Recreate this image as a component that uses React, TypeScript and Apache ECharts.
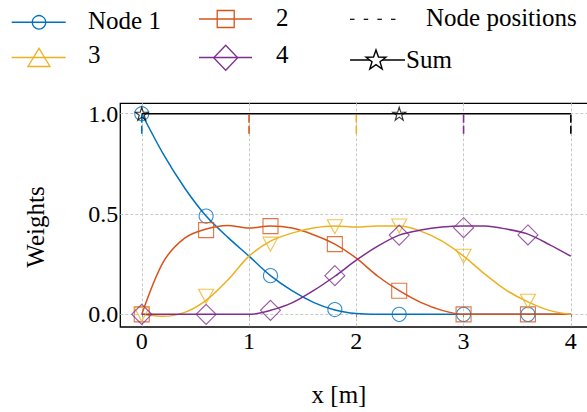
import React, { useEffect, useRef } from "react";
import * as echarts from "echarts";

// ---- data ----
const xs = [0, 0.2, 0.4, 0.6, 0.8, 1.0, 1.2, 1.4, 1.6, 1.8, 2.0, 2.2, 2.4, 2.6, 2.8, 3.0, 3.2, 3.4, 3.6, 3.8, 4.0];
const node1 = [1.0, 0.8, 0.63, 0.49, 0.385, 0.29, 0.193, 0.118, 0.06, 0.022, 0.004, 0, 0, 0, 0, 0, 0, 0, 0, 0, 0];
const node2 = [0, 0.26, 0.38, 0.425, 0.443, 0.43, 0.44, 0.43, 0.397, 0.35, 0.28, 0.19, 0.118, 0.06, 0.02, 0, 0, 0, 0, 0, 0];
const node3 = [0, -0.01, 0.01, 0.07, 0.17, 0.29, 0.365, 0.405, 0.43, 0.44, 0.435, 0.44, 0.44, 0.415, 0.365, 0.29, 0.2, 0.12, 0.062, 0.02, 0];
const node4 = [0, 0, 0, 0, 0, 0, 0.02, 0.057, 0.118, 0.19, 0.27, 0.34, 0.395, 0.42, 0.435, 0.44, 0.44, 0.425, 0.4, 0.348, 0.29];

const markerX = [0, 0.6, 1.2, 1.8, 2.4, 3.0, 3.6];
const node1Markers = [1.0, 0.49, 0.193, 0.024, 0, 0, 0];
const node2Markers = [0, 0.42, 0.44, 0.35, 0.118, 0, 0];
const node3Markers = [0, 0.09, 0.35, 0.437, 0.44, 0.29, 0.065];
const node4Markers = [0, 0, 0.02, 0.193, 0.395, 0.432, 0.396];

const sumX = [0, 4];
const sumY = [1, 1];
const sumMarkerX = [0, 2.4];
const sumMarkerY = [1, 1];

const nodePositions = [0, 1, 2, 3, 4];
const nodeLineRange = [0.9, 1.0];

const xTicks = [0, 1, 2, 3, 4];
const yTicks = [0, 0.5, 1.0];
const xRange = [-0.2, 4.2];
const yRange = [-0.063, 1.052];

const seriesNames = ["Node 1", "2", "3", "4"];
const legendExtra = ["Node positions", "Sum"];
const xLabel = "x [m]";
const yLabel = "Weights";

// ---- styles ----
const COLORS = ["#0072BD", "#D95319", "#EDB120", "#7E2F8E"];
const NODE_LINE_COLORS = ["#0072BD", "#D95319", "#EDB120", "#7E2F8E", "#000000"];
const FONT = "Liberation Serif";

function starPts(cx: number, cy: number, R: number, r: number): number[][] {
  const pts: number[][] = [];
  for (let i = 0; i < 10; i++) {
    const a = -Math.PI / 2 + (i * Math.PI) / 5;
    const rad = i % 2 === 0 ? R : r;
    pts.push([cx + rad * Math.cos(a), cy + rad * Math.sin(a)]);
  }
  return pts;
}
const starPath =
  "path://" +
  starPts(0, 0, 1, 0.382)
    .map((p, i) => (i === 0 ? "M" : "L") + p[0].toFixed(4) + " " + p[1].toFixed(4))
    .join(" ") +
  " Z";

const hollow = (c: string) => ({ color: "rgba(0,0,0,0)", borderColor: c, borderWidth: 1.1 });

export default function App() {
  const ref = useRef<HTMLDivElement>(null);
  useEffect(() => {
    if (!ref.current) return;
    const chart = echarts.init(ref.current, undefined, { renderer: "svg" });
    const nodeData = [node1, node2, node3, node4];
    const markerData = [node1Markers, node2Markers, node3Markers, node4Markers];
    const markerSymbols: any[] = [
      { symbol: "circle", symbolSize: 14, symbolRotate: 0 },
      { symbol: "rect", symbolSize: 15, symbolRotate: 0 },
      { symbol: "triangle", symbolSize: [15, 14], symbolRotate: 180 },
      { symbol: "diamond", symbolSize: 20, symbolRotate: 0 },
    ];
    const series: any[] = [];
    nodeData.forEach((arr, i) => {
      series.push({
        type: "line",
        data: xs.map((x, j) => [x, arr[j]]),
        symbol: "none",
        smooth: 0.3,
        lineStyle: { color: COLORS[i], width: 1.5 },
        z: 2,
        silent: true,
      });
      series.push({
        type: "scatter",
        data: markerX.map((x, j) => [x, markerData[i][j]]),
        ...markerSymbols[i],
        itemStyle: hollow(COLORS[i]),
        z: 3,
        silent: true,
      });
    });
    series.push({
      type: "line",
      data: sumX.map((x, j) => [x, sumY[j]]),
      symbol: "none",
      lineStyle: { color: "#000", width: 1.5 },
      z: 4,
      silent: true,
    });
    series.push({
      type: "scatter",
      data: sumMarkerX.map((x, j) => [x, sumMarkerY[j]]),
      symbol: starPath,
      symbolSize: 13,
      itemStyle: hollow("#000"),
      z: 5,
      silent: true,
    });
    nodePositions.forEach((x, i) => {
      series.push({
        type: "line",
        data: nodeLineRange.map((y) => [x, y]),
        symbol: "none",
        lineStyle: { color: NODE_LINE_COLORS[i], width: 1.6, type: [8, 3] },
        z: 4,
        silent: true,
      });
    });

    // legend graphics
    const g: any[] = [];
    const hline = (x1: number, x2: number, y: number, c: string, w = 1.5) => ({
      type: "line",
      shape: { x1, y1: y, x2, y2: y },
      style: { stroke: c, lineWidth: w },
      silent: true,
    });
    const txt = (t: string, x: number, baseline: number) => ({
      type: "text",
      x,
      y: baseline - 8.4,
      style: { text: t, font: "25px " + FONT, fill: "#000", align: "left", verticalAlign: "middle" },
      silent: true,
    });
    // col 1
    g.push(hline(11.7, 65.7, 22.3, COLORS[0]));
    g.push({ type: "circle", shape: { cx: 39, cy: 22.3, r: 6.7 }, style: { fill: "none", stroke: COLORS[0], lineWidth: 1.3 }, silent: true });
    g.push(txt(seriesNames[0], 88, 29.3));
    g.push(hline(11.7, 65.7, 57.5, COLORS[2]));
    g.push({ type: "polygon", shape: { points: [[39, 48.3], [50, 66.5], [28, 66.5]] }, style: { fill: "none", stroke: COLORS[2], lineWidth: 1.3 }, silent: true });
    g.push(txt(seriesNames[2], 88, 63.3));
    // col 2
    g.push(hline(199, 252, 19, COLORS[1]));
    g.push({ type: "rect", shape: { x: 217.2, y: 10.5, width: 17, height: 17 }, style: { fill: "none", stroke: COLORS[1], lineWidth: 1.3 }, silent: true });
    g.push(txt(seriesNames[1], 276, 26));
    g.push(hline(199, 252, 57.5, COLORS[3]));
    g.push({ type: "polygon", shape: { points: [[225.7, 45.3], [237.7, 57.8], [225.7, 70.3], [213.7, 57.8]] }, style: { fill: "none", stroke: COLORS[3], lineWidth: 1.3 }, silent: true });
    g.push(txt(seriesNames[3], 276, 63.3));
    // col 3
    [350, 363.7, 377.4, 391].forEach((x0) => g.push(hline(x0, x0 + 4.5, 19.3, "#000", 1.2)));
    g.push(txt(legendExtra[0], 426, 26));
    g.push(hline(350, 405, 60, "#000"));
    g.push({ type: "polygon", shape: { points: starPts(376, 60.5, 10.5, 4.2) }, style: { fill: "#fff", stroke: "#000", lineWidth: 1.4 }, silent: true });
    g.push(txt(legendExtra[1], 406, 68.3));
    // axis titles
    g.push({
      type: "text",
      x: 339,
      y: 394.6,
      style: { text: xLabel, font: "25px " + FONT, fill: "#000", align: "center", verticalAlign: "middle" },
      silent: true,
    });
    g.push({
      type: "text",
      x: 35,
      y: 227,
      rotation: Math.PI / 2,
      style: { text: yLabel, font: "25px " + FONT, fill: "#000", align: "center", verticalAlign: "middle" },
      silent: true,
    });

    chart.setOption({
      animation: false,
      backgroundColor: "#fff",
      textStyle: { fontFamily: FONT },
      grid: {
        left: 120.3,
        top: 103.3,
        width: 472,
        bottom: 85,
        outerBoundsMode: "none",
        containLabel: false,
        show: true,
        borderColor: "#000",
        borderWidth: 1.3,
        backgroundColor: "transparent",
      },
      xAxis: {
        type: "value",
        min: xRange[0],
        max: xRange[1],
        axisLine: { show: false },
        axisTick: { show: true, inside: false, length: 3, customValues: xTicks, lineStyle: { color: "#888" } },
        axisLabel: {
          customValues: xTicks,
          formatter: (v: number) => String(v),
          fontFamily: FONT,
          fontSize: 24,
          color: "#000",
          margin: 2,
        },
        splitLine: { show: true, lineStyle: { color: "#c8c8c8", type: [3, 2], width: 1 } },
      },
      yAxis: {
        type: "value",
        min: yRange[0],
        max: yRange[1],
        axisLine: { show: false },
        axisTick: { show: false, customValues: yTicks },
        axisLabel: {
          customValues: yTicks,
          formatter: (v: number) => v.toFixed(1),
          fontFamily: FONT,
          fontSize: 24,
          color: "#000",
          margin: 2,
        },
        splitLine: { show: true, lineStyle: { color: "#c8c8c8", type: [3, 2], width: 1 } },
      },
      graphic: g,
      series,
    });
    return () => chart.dispose();
  }, []);
  return <div ref={ref} style={{ position: "fixed", left: 0, top: 0, width: 587, height: 412 }} />;
}
